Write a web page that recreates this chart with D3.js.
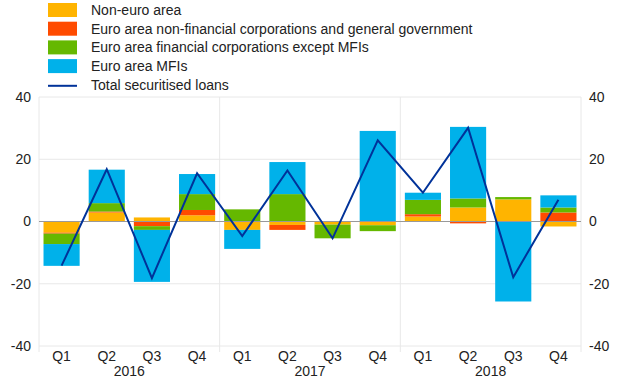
<!DOCTYPE html>
<html>
<head>
<meta charset="utf-8">
<script src="https://cdn.jsdelivr.net/npm/d3@7"></script>
<style>
  body { margin: 0; background: #fff; }
  text { font-family: Arial, "Liberation Sans", sans-serif; fill: #222; }
</style>
</head>
<body>
<div id="chart"></div>
<script>
const quarters = ['Q1','Q2','Q3','Q4','Q1','Q2','Q3','Q4','Q1','Q2','Q3','Q4'];
const years = ['2016','2017','2018'];

const nonEuro  = [-3.6, 2.9, 1.3, 2.0, -2.7, -1.1, -1.0, -1.2, 1.6, 4.5, 7.1, -1.6];
const nonFin   = [-0.3, 0.3, -1.5, 1.7, 0, -1.6, 0, 0, 0.75, -0.6, 0, 2.9];
const finCorp  = [-3.35, 2.7, -1.2, 5.1, 3.9, 8.8, -4.4, -1.9, 4.6, 2.9, 0.75, 1.6];
const mfi      = [-7.0, 10.75, -16.7, 6.45, -6.1, 10.3, 0, 29.1, 2.3, 23.0, -25.7, 3.9];
const total    = [-14.2, 16.8, -18.2, 15.5, -4.7, 16.4, -5.4, 26.1, 9.25, 30.1, -17.9, 7.0];

const seriesNames = ['Non-euro area', 'Euro area non-financial corporations and general government',
                     'Euro area financial corporations except MFIs', 'Euro area MFIs'];
const lineName = 'Total securitised loans';
const yTicks = [-40, -20, 0, 20, 40];

const colors = ['#ffb400', '#ff4b00', '#65b800', '#00b1ea'];
const lineColor = '#003299';

const width = 620, height = 387;
const margin = { top: 97, left: 39, right: 39, bottom: 41 };
const innerW = width - margin.left - margin.right;
const innerH = height - margin.top - margin.bottom;

let svg = d3.select('#chart').append('svg')
    .attr('width', width)
    .attr('height', height);

// rows for the stack
let keys = ['nonEuro','nonFin','finCorp','mfi'];
let rows = quarters.map(function(q, i) {
    return { idx: i, nonEuro: nonEuro[i], nonFin: nonFin[i], finCorp: finCorp[i], mfi: mfi[i] };
});
let stacked = d3.stack().keys(keys).offset(d3.stackOffsetDiverging)(rows);

let x = d3.scaleBand().domain(d3.range(quarters.length))
    .range([0, innerW]).paddingInner(0.2).paddingOuter(0.1);
let y = d3.scaleLinear().domain([-40, 40]).range([innerH, 0]);

let g = svg.append('g').attr('transform', 'translate(' + margin.left + ',' + margin.top + ')');

// horizontal grid
g.selectAll('line.hgrid').data(yTicks.filter(d => d !== 0)).enter().append('line')
    .attr('x1', 0).attr('x2', innerW)
    .attr('y1', d => y(d)).attr('y2', d => y(d))
    .attr('stroke', '#e8e8e8').attr('stroke-width', 1);

// vertical separators (year boundaries and borders), extend below plot
let step = x.step();
let seps = [0, 4, 8, 12].map(k => k * step);
g.selectAll('line.vgrid').data(seps).enter().append('line')
    .attr('x1', d => d).attr('x2', d => d)
    .attr('y1', 0).attr('y2', innerH + 6)
    .attr('stroke', '#e8e8e8').attr('stroke-width', 1);

// bars
g.selectAll('g.series').data(stacked).enter().append('g')
    .attr('fill', (d, i) => colors[i])
    .selectAll('rect').data(d => d).enter().append('rect')
        .attr('x', d => x(d.data.idx))
        .attr('width', x.bandwidth())
        .attr('y', d => y(Math.max(d[0], d[1])))
        .attr('height', d => Math.abs(y(d[0]) - y(d[1])));

// zero line
g.append('line')
    .attr('x1', 0).attr('x2', innerW)
    .attr('y1', y(0)).attr('y2', y(0))
    .attr('stroke', '#999').attr('stroke-width', 1);

// total line
let line = d3.line()
    .x((d, i) => x(i) + x.bandwidth() / 2)
    .y(d => y(d));
g.append('path').datum(total)
    .attr('d', line)
    .attr('fill', 'none')
    .attr('stroke', lineColor)
    .attr('stroke-width', 2);

// y axes, left and right (plain hyphen for negatives)
let fmt = d => String(d);
let yLeft = d3.axisLeft(y).tickValues(yTicks).tickFormat(fmt).tickSize(0).tickPadding(8);
let yRight = d3.axisRight(y).tickValues(yTicks).tickFormat(fmt).tickSize(0).tickPadding(8);
let la = g.append('g').call(yLeft);
let ra = g.append('g').attr('transform', 'translate(' + innerW + ',0)').call(yRight);
[la, ra].forEach(function(a) {
    a.select('.domain').remove();
    a.selectAll('text').style('font-size', '14px').attr('fill', '#222');
});

// x labels
g.selectAll('text.q').data(quarters).enter().append('text')
    .attr('x', (d, i) => x(i) + x.bandwidth() / 2)
    .attr('y', innerH + 15)
    .attr('text-anchor', 'middle')
    .style('font-size', '14px')
    .text(d => d);

g.selectAll('text.yr').data(years).enter().append('text')
    .attr('x', (d, i) => (i * 4 + 2) * step)
    .attr('y', innerH + 30)
    .attr('text-anchor', 'middle')
    .style('font-size', '14px')
    .text(d => d);

// legend
let legend = svg.append('g').attr('transform', 'translate(48,3)');
let rowH = 18.7;
seriesNames.forEach(function(name, i) {
    legend.append('rect')
        .attr('x', 0).attr('y', i * rowH)
        .attr('width', 29).attr('height', 14)
        .attr('fill', colors[i]);
    legend.append('text')
        .attr('x', 43).attr('y', i * rowH + 12)
        .style('font-size', '14px')
        .text(name);
});
legend.append('line')
    .attr('x1', 0).attr('x2', 29)
    .attr('y1', 4 * rowH + 8).attr('y2', 4 * rowH + 8)
    .attr('stroke', lineColor).attr('stroke-width', 2);
legend.append('text')
    .attr('x', 43).attr('y', 4 * rowH + 12)
    .style('font-size', '14px')
    .text(lineName);
</script>
</body>
</html>
